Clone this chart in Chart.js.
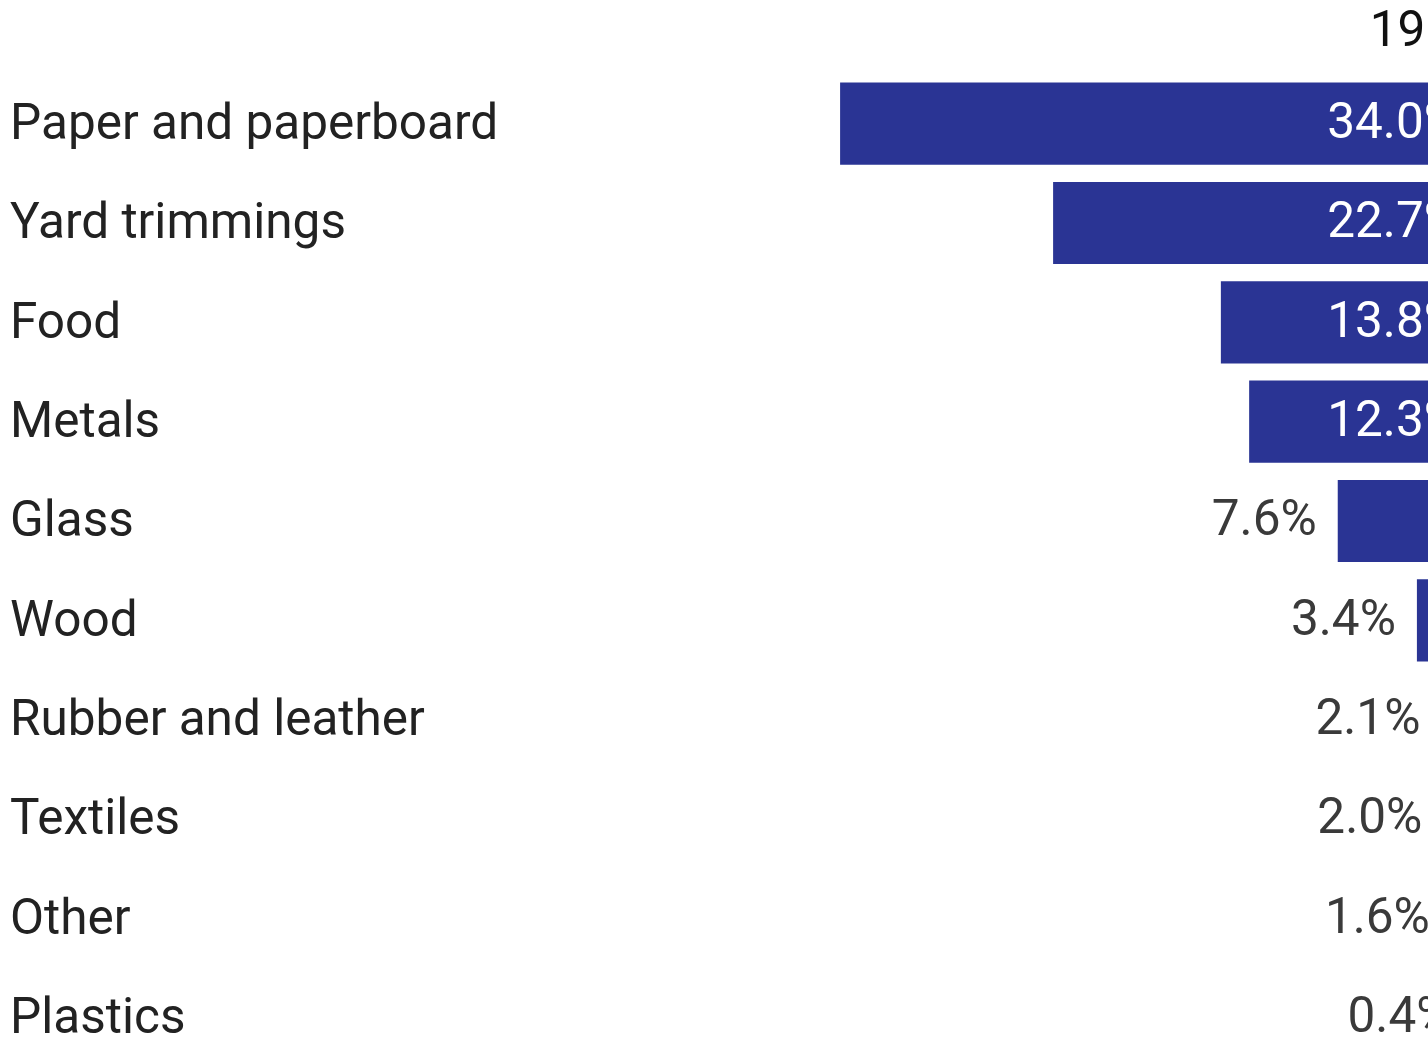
<!DOCTYPE html>
<html>
<head>
<meta charset="utf-8">
<script src="https://cdn.jsdelivr.net/npm/chart.js@4.4.1/dist/chart.umd.min.js"></script>
<style>
  html, body { margin: 0; padding: 0; background: #fff; overflow: hidden; }
  #wrap { width: 1560px; height: 1100px; }
</style>
</head>
<body>
<div id="wrap"><canvas id="mswChart" width="1560" height="1100"></canvas></div>
<script>
// MSW generation by material, share of total
const yearLabel = '1960';
const materials = ['Paper and paperboard', 'Yard trimmings', 'Food', 'Metals', 'Glass',
    'Wood', 'Rubber and leather', 'Textiles', 'Other', 'Plastics'];
const shares = [34.0, 22.7, 13.8, 12.3, 7.6, 3.4, 2.1, 2.0, 1.6, 0.4];

const barColor = '#2a3494';
const fontFamily = 'Roboto, "Noto Sans", sans-serif';
const fontSize = 49.5;

// value labels + column header
const valueLabels = {
    id: 'valueLabels',
    afterDatasetsDraw(chart) {
        const ctx = chart.ctx;
        const meta = chart.getDatasetMeta(0);
        ctx.save();
        ctx.font = fontSize + 'px ' + fontFamily;
        ctx.textAlign = 'right';
        ctx.textBaseline = 'middle';
        meta.data.forEach(function(bar, i) {
            const v = shares[i];
            const txt = v.toFixed(1) + '%';
            if (v >= 10) {
                ctx.fillStyle = '#ffffff';
                ctx.fillText(txt, bar.base - 21, bar.y + 2);
            } else {
                ctx.fillStyle = '#3a3a3a';
                ctx.fillText(txt, bar.x - 21, bar.y + 2);
            }
        });
        // header above the column
        ctx.fillStyle = '#111111';
        ctx.fillText(yearLabel, chart.scales.x.getPixelForValue(0), 34);
        ctx.restore();
    }
};

new Chart(document.getElementById('mswChart').getContext('2d'), {
    type: 'bar',
    data: {
        labels: materials,
        datasets: [{
            data: shares,
            backgroundColor: barColor,
            borderWidth: 0,
            barPercentage: 0.827,
            categoryPercentage: 1.0
        }]
    },
    options: {
        indexAxis: 'y',
        responsive: false,
        animation: false,
        layout: { padding: { left: 10, right: 79, top: 74, bottom: 0 } },
        plugins: {
            legend: { display: false },
            tooltip: { enabled: false }
        },
        scales: {
            x: {
                display: false,
                reverse: true,
                min: 0,
                max: 40
            },
            y: {
                grid: { display: false },
                border: { display: false },
                ticks: {
                    crossAlign: 'far',
                    labelOffset: 3,
                    color: '#222222',
                    font: { family: fontFamily, size: fontSize }
                },
                afterFit: function(scale) {
                    scale.width = 717;
                }
            }
        }
    },
    plugins: [valueLabels]
});
</script>
</body>
</html>
